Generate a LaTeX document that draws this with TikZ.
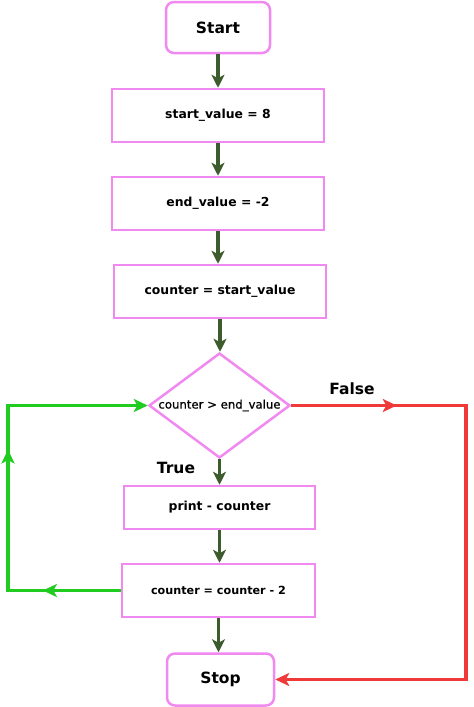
\documentclass[tikz,border=0pt]{standalone}
\usepackage{fontspec}
\setmainfont{DejaVu Sans}
\newfontfamily\medfont[FakeBold=0.8]{DejaVu Sans}
\usetikzlibrary{shapes.geometric,arrows.meta,decorations.markings}
\definecolor{boxline}{HTML}{F08AF0}
\definecolor{flowgreen}{HTML}{3D5C2E}
\definecolor{loopgreen}{HTML}{1FCC1F}
\definecolor{falsered}{HTML}{F03A3A}
\tikzset{
  procbox/.style={draw=boxline, line width=2.5pt, fill=white, inner sep=0pt},
  termbox/.style={procbox, rounded corners=8pt},
  lbl/.style={font=\bfseries\fontsize{12.4}{14}\selectfont, text=black},
  biglbl/.style={font=\bfseries\fontsize{15.5}{18}\selectfont, text=black},
  flow/.style={draw=flowgreen, line width=3.5pt, -{Stealth[length=13pt,width=13pt,inset=3.5pt]}},
  loopline/.style={draw=loopgreen, line width=3.5pt, line join=miter},
  redline/.style={draw=falsered, line width=3.5pt, line join=miter},
  midarrow/.style 2 args={postaction={decorate,decoration={markings,
     mark=at position #1 with {\arrow[#2]{Stealth[length=14pt,width=13pt,inset=3.5pt]}}}}},
  endtip/.style={-{Stealth[length=14pt,width=13pt,inset=3.5pt]}}
}
\begin{document}
\begin{tikzpicture}[x=1pt,y=-1pt]
\useasboundingbox (0,0) rectangle (474,707);
\node[termbox, minimum width=104pt, minimum height=51pt, biglbl] (start) at (218,27.5) {Start};
\node[procbox, minimum width=212pt, minimum height=53pt, lbl] (sv) at (218,115.5) {start\_value = 8};
\node[procbox, minimum width=212pt, minimum height=53pt, lbl] (ev) at (218,203.5) {end\_value = -2};
\node[procbox, minimum width=212pt, minimum height=53pt, lbl] (cs) at (220,291.5) {counter = start\_value};
\node[diamond, draw=boxline, line width=2.5pt, fill=white, inner sep=0pt, minimum width=141pt, minimum height=105pt] (d) at (219.5,405.5) {};
\node[font=\medfont\fontsize{11.7}{14}\selectfont, text=black] (dtext) at (d.center) {counter > end\_value};
\node[procbox, minimum width=191pt, minimum height=43pt, lbl] (pc) at (219.5,507.5) {print - counter};
\node[procbox, minimum width=193pt, minimum height=53pt, font=\bfseries\fontsize{11.2}{13}\selectfont] (cc) at (218.5,590.5) {counter = counter - 2};
\node[termbox, minimum width=107pt, minimum height=52pt, biglbl] (stop) at (220.5,679.5) {Stop};
\node[biglbl] (truelbl) at (176,468) {True};
\node[biglbl] (falselbl) at (352,389) {False};
\coordinate (rc1) at (466,405.5);
\coordinate (rc2) at (466,679.5);
\coordinate (gc1) at (8,590.5);
\coordinate (gc2) at (8,405.5);
\draw[flow] (start.south) -- (start.south |- sv.north);
\draw[flow] (sv.south) -- (sv.south |- ev.north);
\draw[flow] (ev.south) -- (ev.south |- cs.north);
\draw[flow] (cs.south) -- (cs.south |- d.north);
\draw[flow] (d.south) -- (d.south |- pc.north);
\draw[flow] (pc.south) -- (pc.south |- cc.north);
\draw[flow] (cc.south) -- (cc.south |- stop.north);
\draw[redline, endtip, midarrow={0.165}{falsered}] (d.east) -- (rc1) -- (rc2) -- (stop.east);
\draw[loopline, endtip, midarrow={0.178}{loopgreen}, midarrow={0.58}{loopgreen}] (cc.west) -- (gc1) -- (gc2) -- (d.west);
\end{tikzpicture}
\end{document}
